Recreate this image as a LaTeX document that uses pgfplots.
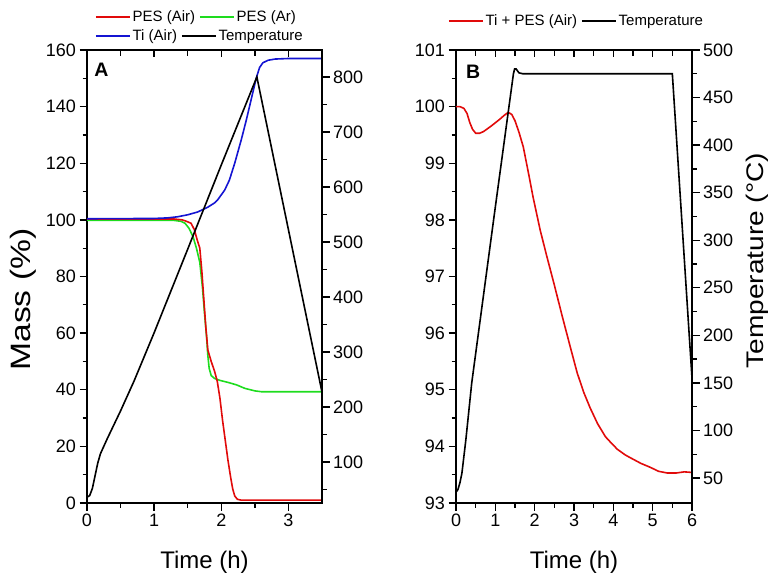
\documentclass[border=0pt]{standalone}
\usepackage{fontspec}
\setmainfont{Liberation Sans}
\usepackage{graphicx}
\usepackage{pgfplots}
\pgfplotsset{compat=1.18}
\definecolor{cred}{RGB}{225,10,10}
\definecolor{cgreen}{RGB}{30,220,30}
\definecolor{cblue}{RGB}{20,20,210}

\pgfplotstableread{
t m
0 100.3
0.5 100.3
1.0 100.3
1.3 100.3
1.42 100.0
1.48 99.5
1.55 98.8
1.60 96.5
1.64 93
1.68 90
1.71 82
1.74 72
1.77 62
1.80 54
1.85 50
1.90 46.5
1.94 43
1.98 37
2.02 29
2.06 22
2.10 15
2.14 9
2.17 5
2.20 2.5
2.24 1.3
2.30 1.0
3.5 1.0
}\pesair

\pgfplotstableread{
t m
0 99.8
1.3 99.8
1.40 99.5
1.46 98.8
1.52 97
1.58 94
1.63 90
1.68 85
1.72 76
1.75 67
1.78 59
1.80 52
1.82 47.5
1.85 45
1.90 44
1.98 43.3
2.1 42.6
2.23 41.7
2.35 40.5
2.5 39.6
2.6 39.3
3.5 39.3
}\pesar

\pgfplotstableread{
t m
0 100.4
1.0 100.5
1.2 100.7
1.35 101.1
1.5 101.8
1.65 102.8
1.8 104.5
1.9 106
1.95 107.2
2.05 110.5
2.12 114
2.2 120
2.3 128.5
2.37 135
2.45 143
2.52 150
2.57 153.8
2.62 155.5
2.7 156.4
2.8 156.8
3.0 157
3.5 157
}\tiair

\pgfplotstableread{
t T
0 36
0.04 39
0.08 52
0.12 75
0.16 98
0.2 115
0.3 142
0.5 193
0.7 247
1.0 335
1.5 487
2.0 640
2.53 800
3.5 227
}\tempA

\pgfplotstableread{
t m
0 100.0
0.1 100.0
0.2 99.97
0.28 99.88
0.35 99.72
0.42 99.6
0.5 99.53
0.6 99.53
0.7 99.56
0.9 99.66
1.1 99.77
1.25 99.86
1.33 99.9
1.42 99.86
1.5 99.75
1.6 99.55
1.71 99.29
1.85 98.8
1.96 98.4
2.14 97.82
2.3 97.38
2.5 96.85
2.7 96.3
2.9 95.77
3.08 95.3
3.25 94.95
3.41 94.68
3.6 94.4
3.8 94.17
3.92 94.08
4.1 93.95
4.3 93.85
4.43 93.8
4.7 93.7
4.94 93.63
5.15 93.56
5.37 93.53
5.6 93.53
5.8 93.55
6.0 93.54
}\tipes

\pgfplotstableread{
t T
0 35
0.05 38
0.1 45
0.15 55
0.25 90
0.4 150
1.0 335
1.46 475
1.49 480
1.53 480
1.6 476
1.7 475
5.5 475
6.0 155
}\tempB

\pgfplotsset{
  common/.style={
    scale only axis, width=235pt, height=453pt,
    anchor=south west,
    /pgf/number format/assume math mode=true,
    ticklabel style={font=\fontsize{18}{18}\selectfont},
    tick style={black, line width=1.3pt},
    major tick length=7.5pt, minor tick length=4.5pt,
    axis line style={line width=1.5pt, -},
    legend cell align=left,
    legend image code/.code={\draw[#1] (0pt,0pt) -- (34pt,0pt);},
    legend style={draw=none, fill=none, inner sep=0pt, outer sep=0pt,
      font=\fontsize{15}{15}\selectfont, anchor=west,
      /tikz/every even column/.append style={column sep=2pt}},
    legend columns=2,
  },
  topax/.style={
    common, axis x line*=top, axis y line=none, tick align=inside,
    xticklabels={}, major tick length=7pt, minor tick length=6pt,
    ymin=0, ymax=1,
  },
  dl/.style={line width=1.6pt},
}

\begin{document}
\begin{tikzpicture}
\useasboundingbox (0,0) rectangle (770pt,574pt);

% ---------- Panel A ----------
\begin{axis}[common, at={(87pt,71pt)},
  xmin=0, xmax=3.5, ymin=0, ymax=160,
  xtick={0,1,2,3}, minor xtick={0.5,1.5,2.5},
  ytick={0,20,...,160}, minor ytick={10,30,...,150},
  xtick pos=left, ytick pos=left, tick align=outside,
  xlabel={Time (h)},
  xlabel style={at={(axis description cs:0.5,-0.130)}, anchor=center, font=\fontsize{24}{24}\selectfont},
  ylabel={\scalebox{1.2}[1]{Mass (\%)}},
  ylabel style={at={(axis description cs:-0.272,0.449)}, anchor=center, font=\fontsize{28}{28}\selectfont},
  legend style={at={(axis description cs:0.034,1.0728)}},
]
\addplot[dl, cgreen, forget plot] table[x=t,y=m] {\pesar};
\addplot[dl, cred, forget plot] table[x=t,y=m] {\pesair};
\addplot[dl, cblue, forget plot] table[x=t,y=m] {\tiair};
\addlegendimage{dl, cred}
\addlegendimage{dl, cgreen}
\legend{PES (Air), PES (Ar)}
\node[anchor=north west, inner sep=0pt, font=\fontsize{19.5}{19.5}\selectfont\bfseries] at (axis description cs:0.030,0.971) {A};
\end{axis}
\begin{axis}[common, at={(87pt,71pt)},
  xmin=0, xmax=3.5, ymin=25.5, ymax=849,
  axis x line=none, axis y line*=right, tick align=outside,
  ytick={100,200,...,800}, minor ytick={50,150,...,850},
  legend style={at={(axis description cs:0.034,1.0309)}},
]
\addlegendimage{dl, cblue}
\addplot[dl, black] table[x=t,y=T] {\tempA};
\legend{Ti (Air), Temperature}
\end{axis}
\begin{axis}[topax, at={(87pt,71pt)}, xmin=0, xmax=3.5,
  xtick={0,1,2,3}, minor xtick={0.5,1.5,2.5}]
\addplot[draw=none] coordinates {(0,0)};
\end{axis}

% ---------- Panel B ----------
\begin{axis}[common, at={(456pt,71pt)}, width=236pt,
  xmin=0, xmax=6, ymin=93, ymax=101,
  xtick={0,1,...,6}, minor xtick={0.5,1.5,...,5.5},
  ytick={93,94,...,101}, minor ytick={93.5,94.5,...,100.5},
  xtick pos=left, ytick pos=left, tick align=outside,
  xlabel={Time (h)},
  xlabel style={at={(axis description cs:0.5,-0.130)}, anchor=center, font=\fontsize{24}{24}\selectfont},
]
\addplot[dl, cred] table[x=t,y=m] {\tipes};
\node[anchor=north west, inner sep=0pt, font=\fontsize{19.5}{19.5}\selectfont\bfseries] at (axis description cs:0.042,0.967) {B};
\end{axis}
\begin{axis}[common, at={(456pt,71pt)}, width=236pt,
  xmin=0, xmax=6, ymin=23.7, ymax=500,
  axis x line=none, axis y line*=right, tick align=outside,
  ytick={50,100,...,500}, minor ytick={75,125,...,475},
  ylabel={\scalebox{1.17}[1]{Temperature (\textdegree C)}},
  ylabel style={at={(axis description cs:1.278,0.535)}, anchor=center, rotate=0, inner sep=0pt, font=\fontsize{24}{24}\selectfont},
  legend style={at={(axis description cs:-0.034,1.064)}},
]
\addlegendimage{dl, cred}
\addplot[dl, black] table[x=t,y=T] {\tempB};
\legend{Ti + PES (Air), Temperature}
\end{axis}
\begin{axis}[topax, at={(456pt,71pt)}, width=236pt, xmin=0, xmax=6,
  xtick={0,1,...,6}, minor xtick={0.5,1.5,...,5.5}]
\addplot[draw=none] coordinates {(0,0)};
\end{axis}
\end{tikzpicture}
\end{document}
